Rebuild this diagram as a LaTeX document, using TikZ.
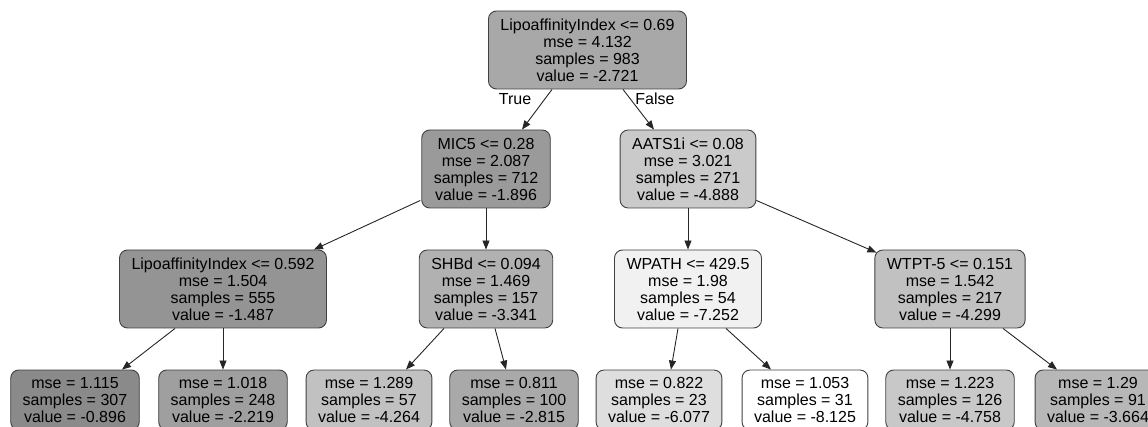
\documentclass[tikz,border=0pt]{standalone}
\usepackage{fontspec}
\setmainfont{Liberation Sans}
\usetikzlibrary{arrows.meta,calc}
\begin{document}
\begin{tikzpicture}[x=1pt,y=1pt,
  tnode/.style={draw=black!75, line width=0.9pt, rounded corners=8pt, align=center,
    inner xsep=12pt, inner ysep=0pt, font=\fontsize{16}{17}\selectfont},
  split/.style={tnode, minimum height=78pt},
  leaf/.style={tnode, minimum height=60pt},
  link/.style={draw=black!85, line width=0.9pt, -{Triangle[length=9pt,width=7pt]}},
  lbl/.style={font=\fontsize{16}{17}\selectfont, inner sep=0pt}]

\useasboundingbox (0,0) rectangle (1148,-427);

% split nodes
\node[split, fill=black!34.3] (root) at (587.5,-50)
  {LipoaffinityIndex <= 0.69\\mse = 4.132\\samples = 983\\value = -2.721};
\node[split, fill=black!39.6] (mic5) at (486,-169)
  {MIC5 <= 0.28\\mse = 2.087\\samples = 712\\value = -1.896};
\node[split, fill=black!20.6] (aats) at (688,-169)
  {AATS1i <= 0.08\\mse = 3.021\\samples = 271\\value = -4.888};
\node[split, fill=black!42.1] (lipo) at (223,-289)
  {LipoaffinityIndex <= 0.592\\mse = 1.504\\samples = 555\\value = -1.487};
\node[split, fill=black!30.4] (shbd) at (486,-289)
  {SHBd <= 0.094\\mse = 1.469\\samples = 157\\value = -3.341};
\node[split, fill=black!5.6] (wpath) at (688,-289)
  {WPATH <= 429.5\\mse = 1.98\\samples = 54\\value = -7.252};
\node[split, fill=black!24.3] (wtpt) at (950,-289)
  {WTPT-5 <= 0.151\\mse = 1.542\\samples = 217\\value = -4.299};

% leaves
\node[leaf, fill=black!45.9] (l1) at (75,-400)   {mse = 1.115\\samples = 307\\value = -0.896};
\node[leaf, fill=black!37.5] (l2) at (223,-400)  {mse = 1.018\\samples = 248\\value = -2.219};
\node[leaf, fill=black!24.5] (l3) at (369,-400)  {mse = 1.289\\samples = 57\\value = -4.264};
\node[leaf, fill=black!33.7] (l4) at (514,-400)  {mse = 0.811\\samples = 100\\value = -2.815};
\node[leaf, fill=black!13.0] (l5) at (659,-400)  {mse = 0.822\\samples = 23\\value = -6.077};
\node[leaf, fill=white]      (l6) at (805,-400)  {mse = 1.053\\samples = 31\\value = -8.125};
\node[leaf, fill=black!21.4] (l7) at (950,-400)  {mse = 1.223\\samples = 126\\value = -4.758};
\node[leaf, fill=black!28.3] (l8) at (1098,-400) {mse = 1.29\\samples = 91\\value = -3.664};

% connectors
\draw[link] ($(root.south)+(-35.5,0)$) -- ($(mic5.north)+(36,0)$);
\draw[link] ($(root.south)+(35.5,0)$) -- ($(aats.north)+(-34,0)$);
\node[lbl] (ltrue) at (515,-99) {True};
\node[lbl] (lfalse) at (655,-99) {False};

\draw[link] ($(mic5.south west)+(-1,8)$) -- ($(lipo.north)+(91,0)$);
\draw[link] (mic5) -- (shbd);
\draw[link] (aats) -- (wpath);
\draw[link] ($(aats.south east)+(0,8)$) -- ($(wtpt.north west)+(2,-3)$);

\draw[link] ($(lipo.south)+(-48,0)$) -- ($(l1.north)+(47,0)$);
\draw[link] (lipo) -- (l2);
\draw[link] ($(shbd.south)+(-42,0)$) -- ($(l3.north)+(37,0)$);
\draw[link] ($(shbd.south)+(9,0)$) -- ($(l4.north)+(-8,0)$);
\draw[link] ($(wpath.south)+(-10,0)$) -- ($(l5.north)+(12,0)$);
\draw[link] ($(wpath.south)+(38,0)$) -- ($(l6.north)+(-34,0)$);
\draw[link] (wtpt) -- (l7);
\draw[link] ($(wtpt.south)+(53,0)$) -- ($(l8.north)+(-41,0)$);
\end{tikzpicture}
\end{document}
